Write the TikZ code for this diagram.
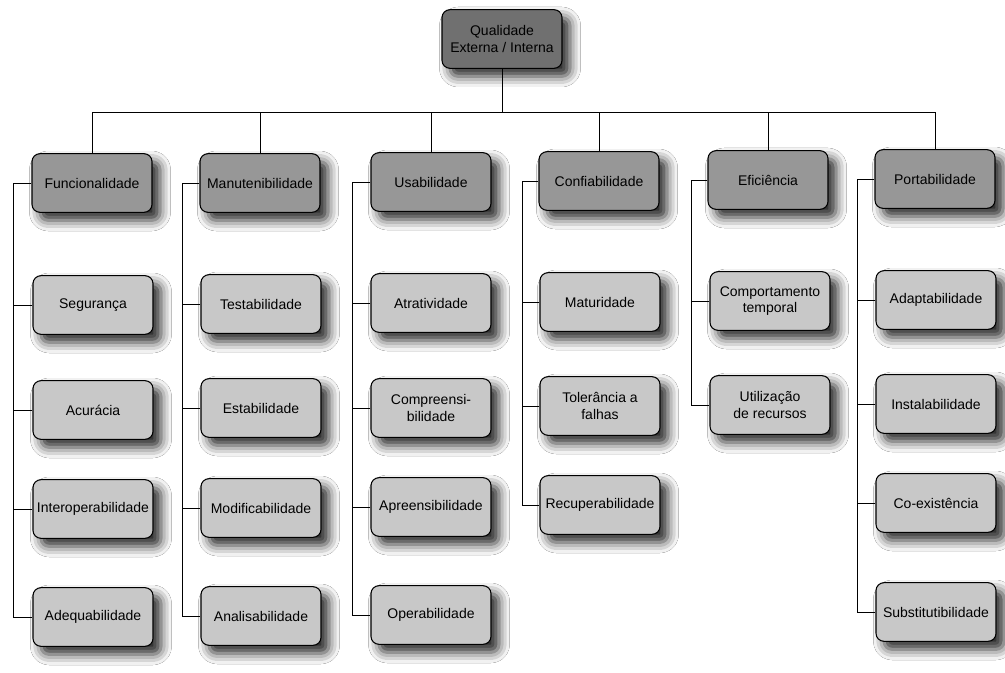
\documentclass[tikz,border=0pt]{standalone}
\usepackage{fontspec}
\setmainfont{Liberation Sans}
\usetikzlibrary{shadows.blur}
\definecolor{topfill}{HTML}{707070}
\definecolor{catfill}{HTML}{979797}
\definecolor{subfill}{HTML}{C8C8C8}
\tikzset{
  box/.style={draw=black, line width=0.8pt, rounded corners=6pt,
    minimum width=90pt, minimum height=44pt, inner sep=2pt, align=center,
    font=\fontsize{10.5}{12.5}\selectfont,
    blur shadow={shadow xshift=6pt, shadow yshift=-6pt, shadow blur radius=8pt, shadow opacity=85}},
  topbox/.style={box, fill=topfill},
  catbox/.style={box, fill=catfill},
  subbox/.style={box, fill=subfill},
  link/.style={draw=black, line width=0.7pt}
}
\begin{document}
\begin{tikzpicture}[x=0.75pt,y=-0.75pt]
\useasboundingbox[fill=white] (0,0) rectangle (1005,673);
% top
\node[topbox] (top) at (502,39) {Qualidade\\Externa / Interna};
% categories
\node[catbox] (fun)  at (92,183)  {Funcionalidade};
\node[catbox] (man)  at (260,183) {Manutenibilidade};
\node[catbox] (usa)  at (431,182) {Usabilidade};
\node[catbox] (conf) at (599,181) {Confiabilidade};
\node[catbox] (efi)  at (768,180) {Eficiência};
\node[catbox] (port) at (935,179) {Portabilidade};
% Funcionalidade
\node[subbox] (seg)   at (93,305) {Segurança};
\node[subbox] (acu)   at (93,410) {Acurácia};
\node[subbox] (inter) at (93,509) {Interoperabilidade};
\node[subbox] (adeq)  at (93,617) {Adequabilidade};
% Manutenibilidade
\node[subbox] (test)  at (261,304) {Testabilidade};
\node[subbox] (estab) at (261,408) {Estabilidade};
\node[subbox] (modif) at (261,508) {Modificabilidade};
\node[subbox] (anal)  at (261,616) {Analisabilidade};
% Usabilidade
\node[subbox] (atra)  at (431,303) {Atratividade};
\node[subbox] (compr) at (431,408) {Compreensi-\\bilidade};
\node[subbox] (apre)  at (431,507) {Apreensibilidade};
\node[subbox] (oper)  at (431,615) {Operabilidade};
% Confiabilidade
\node[subbox] (mat)   at (600,302) {Maturidade};
\node[subbox] (tol)   at (600,406) {Tolerância a\\falhas};
\node[subbox] (rec)   at (600,505) {Recuperabilidade};
% Eficiencia
\node[subbox] (ctemp) at (770,301) {Comportamento\\temporal};
\node[subbox] (util)  at (770,405) {Utilização\\de recursos};
% Portabilidade
\node[subbox] (adap)  at (936,300) {Adaptabilidade};
\node[subbox] (inst)  at (936,404) {Instalabilidade};
\node[subbox] (coex)  at (936,503) {Co-existência};
\node[subbox] (subs)  at (936,612) {Substitutibilidade};
% bus
\coordinate (bus) at (0,112);
\draw[link] (top.south) -- (top.south |- bus);
\draw[link] (fun.north) -- (fun.north |- bus) -- (port.north |- bus) -- (port.north);
\draw[link] (man.north) -- (man.north |- bus);
\draw[link] (usa.north) -- (usa.north |- bus);
\draw[link] (conf.north) -- (conf.north |- bus);
\draw[link] (efi.north) -- (efi.north |- bus);
% spines
\coordinate (sf) at (13,0);
\coordinate (sm) at (182,0);
\coordinate (su) at (352,0);
\coordinate (sc) at (522,0);
\coordinate (se) at (691,0);
\coordinate (sp) at (857,0);
\draw[link] (fun.west) -- (fun.west -| sf) |- (adeq.west);
\draw[link] (seg.west) -- (seg.west -| sf);
\draw[link] (acu.west) -- (acu.west -| sf);
\draw[link] (inter.west) -- (inter.west -| sf);
\draw[link] (man.west) -- (man.west -| sm) |- (anal.west);
\draw[link] (test.west) -- (test.west -| sm);
\draw[link] (estab.west) -- (estab.west -| sm);
\draw[link] (modif.west) -- (modif.west -| sm);
\draw[link] (usa.west) -- (usa.west -| su) |- (oper.west);
\draw[link] (atra.west) -- (atra.west -| su);
\draw[link] (compr.west) -- (compr.west -| su);
\draw[link] (apre.west) -- (apre.west -| su);
\draw[link] (conf.west) -- (conf.west -| sc) |- (rec.west);
\draw[link] (mat.west) -- (mat.west -| sc);
\draw[link] (tol.west) -- (tol.west -| sc);
\draw[link] (efi.west) -- (efi.west -| se) |- (util.west);
\draw[link] (ctemp.west) -- (ctemp.west -| se);
\draw[link] (port.west) -- (port.west -| sp) |- (subs.west);
\draw[link] (adap.west) -- (adap.west -| sp);
\draw[link] (inst.west) -- (inst.west -| sp);
\draw[link] (coex.west) -- (coex.west -| sp);
\end{tikzpicture}
\end{document}
